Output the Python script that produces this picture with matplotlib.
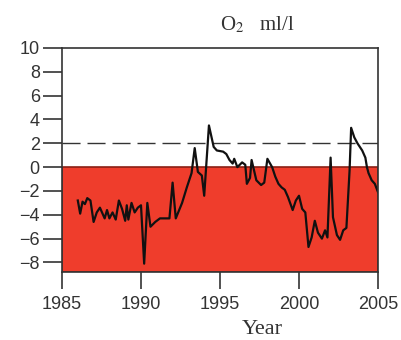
import matplotlib.pyplot as plt

# O2 anomaly time series
years = [1986.0, 1986.15, 1986.3, 1986.45, 1986.6, 1986.8, 1987.0, 1987.2, 1987.4, 1987.7,
         1987.85, 1988.0, 1988.2, 1988.4, 1988.6, 1988.8, 1989.0, 1989.1, 1989.2, 1989.4,
         1989.6, 1989.8, 1990.0, 1990.2, 1990.4, 1990.6, 1990.9, 1991.2, 1991.6, 1991.8,
         1992.0, 1992.2, 1992.6, 1992.9, 1993.2, 1993.4, 1993.6, 1993.85, 1994.0, 1994.3,
         1994.6, 1994.8, 1995.2, 1995.4, 1995.6, 1995.8, 1995.9, 1996.1, 1996.4, 1996.6,
         1996.7, 1996.9, 1997.0, 1997.3, 1997.6, 1997.8, 1998.0, 1998.3, 1998.5, 1998.7,
         1998.9, 1999.1, 1999.3, 1999.6, 1999.8, 2000.0, 2000.2, 2000.4, 2000.6, 2000.8,
         2001.0, 2001.2, 2001.45, 2001.65, 2001.8, 2002.0, 2002.15, 2002.4, 2002.6, 2002.8,
         2003.0, 2003.2, 2003.3, 2003.5, 2003.7, 2004.0, 2004.2, 2004.3, 2004.4, 2004.6,
         2004.8, 2005.0]
o2 = [-2.8, -3.9, -2.9, -3.1, -2.6, -2.8, -4.6, -3.8, -3.4, -4.3,
      -3.6, -4.3, -3.8, -4.4, -2.8, -3.5, -4.5, -3.2, -4.4, -3.0,
      -3.8, -3.4, -3.2, -8.1, -3.0, -5.0, -4.6, -4.3, -4.3, -4.3,
      -1.3, -4.3, -3.0, -1.7, -0.5, 1.6, -0.4, -0.7, -2.4, 3.5,
      1.7, 1.4, 1.3, 1.1, 0.6, 0.3, 0.7, 0.0, 0.4, 0.2,
      -1.4, -0.9, 0.6, -1.1, -1.5, -1.3, 0.7, 0.0, -0.8, -1.4,
      -1.7, -1.9, -2.5, -3.6, -2.8, -2.4, -3.5, -3.8, -6.7, -5.9,
      -4.5, -5.5, -6.0, -5.3, -5.9, 0.8, -4.2, -5.7, -6.1, -5.3,
      -5.1, -0.3, 3.3, 2.5, 2.0, 1.4, 0.8, 0.0, -0.5, -1.1,
      -1.4, -2.1]

xticks = [1985, 1990, 1995, 2000, 2005]
yticks = [-8, -6, -4, -2, 0, 2, 4, 6, 8, 10]

plt.rcParams['font.family'] = ['Liberation Sans', 'DejaVu Sans']

fig = plt.figure(figsize=(4.01, 3.40), dpi=100)
ax = fig.add_axes([62 / 401, 1 - 272 / 340, 316 / 401, 224 / 340])

ax.axhspan(-8.8, 0, facecolor='#ef3d2c', edgecolor='#8a2015', linewidth=1.2, zorder=0)
ax.axhline(2, color='#333333', lw=1.0, dashes=(13, 5), zorder=1)
ax.plot(years, o2, color='#111111', lw=1.6, zorder=2)

ax.set_xlim(1985, 2005)
ax.set_ylim(-8.8, 10)
ax.set_xticks(xticks)
ax.set_yticks(yticks)
ax.tick_params(axis='x', direction='out', length=12, width=1.2, labelsize=13, pad=5, colors='#333333')
ax.tick_params(axis='y', direction='out', length=14, width=1.2, labelsize=13, pad=2, colors='#333333')
for s in ax.spines.values():
    s.set_linewidth(1.2)
    s.set_color('#333333')

fig.text(257 / 401, 1 - 25 / 340, r'O$_2$   ml/l', ha='center', va='center',
         family='Liberation Serif', fontsize=15, color='#333333',
         math_fontfamily='stix')
fig.text(262 / 401, 1 - 330 / 340, 'Year', ha='center', va='center',
         family='Liberation Serif', fontsize=16, color='#333333')

fig.savefig('out.png', dpi=100)
